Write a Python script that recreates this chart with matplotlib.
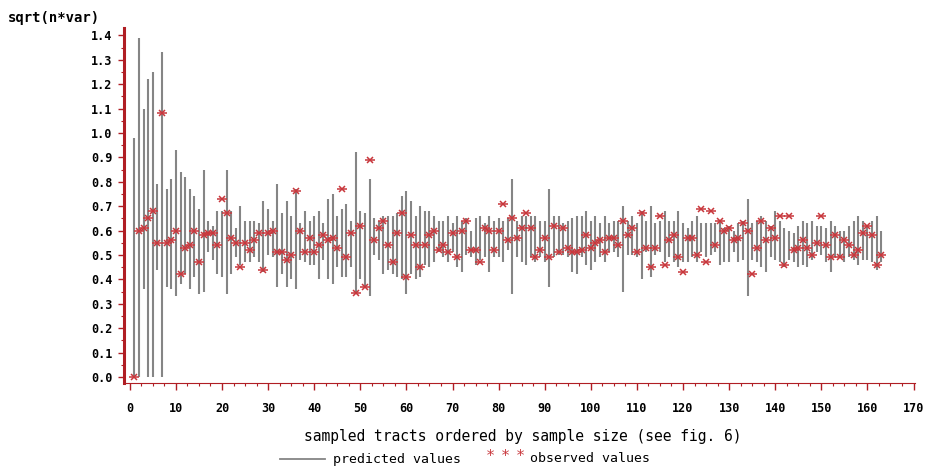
import matplotlib
matplotlib.use("Agg")
import matplotlib.pyplot as plt
from matplotlib.ticker import MultipleLocator
from matplotlib.lines import Line2D

# ---- data ----
tract = list(range(1, 164))

pred_low = [
    0.00, 0.00, 0.36, 0.00, 0.00, 0.44, 0.00, 0.37, 0.36, 0.33,
    0.38, 0.42, 0.36, 0.41, 0.34, 0.35, 0.51, 0.48, 0.42, 0.41,
    0.34, 0.42, 0.49, 0.46, 0.47, 0.47, 0.49, 0.47, 0.43, 0.50,
    0.49, 0.37, 0.42, 0.37, 0.40, 0.36, 0.48, 0.47, 0.46, 0.46,
    0.40, 0.48, 0.40, 0.38, 0.45, 0.41, 0.41, 0.45, 0.34, 0.40,
    0.37, 0.33, 0.50, 0.48, 0.42, 0.44, 0.42, 0.41, 0.40, 0.34,
    0.42, 0.40, 0.41, 0.46, 0.45, 0.47, 0.51, 0.49, 0.47, 0.51,
    0.45, 0.43, 0.50, 0.49, 0.46, 0.48, 0.49, 0.43, 0.49, 0.49,
    0.47, 0.52, 0.34, 0.49, 0.47, 0.46, 0.49, 0.47, 0.49, 0.47,
    0.37, 0.49, 0.50, 0.50, 0.49, 0.43, 0.42, 0.49, 0.46, 0.44,
    0.47, 0.49, 0.47, 0.51, 0.51, 0.49, 0.35, 0.50, 0.50, 0.49,
    0.40, 0.51, 0.41, 0.50, 0.51, 0.47, 0.49, 0.47, 0.45, 0.47,
    0.47, 0.49, 0.47, 0.51, 0.49, 0.50, 0.51, 0.46, 0.47, 0.47,
    0.51, 0.47, 0.48, 0.33, 0.48, 0.47, 0.45, 0.43, 0.49, 0.48,
    0.47, 0.45, 0.48, 0.47, 0.45, 0.46, 0.45, 0.48, 0.51, 0.50,
    0.47, 0.43, 0.49, 0.49, 0.47, 0.49, 0.48, 0.46, 0.48, 0.48,
    0.47, 0.44, 0.47,
]

pred_high = [
    0.98, 1.39, 1.10, 1.22, 1.25, 0.79, 1.33, 0.77, 0.81, 0.93,
    0.84, 0.82, 0.77, 0.74, 0.69, 0.85, 0.64, 0.62, 0.68, 0.68,
    0.85, 0.68, 0.61, 0.70, 0.64, 0.64, 0.64, 0.63, 0.72, 0.69,
    0.64, 0.79, 0.67, 0.72, 0.66, 0.77, 0.63, 0.68, 0.64, 0.66,
    0.68, 0.63, 0.73, 0.75, 0.66, 0.69, 0.71, 0.64, 0.92, 0.68,
    0.67, 0.81, 0.65, 0.64, 0.66, 0.66, 0.66, 0.67, 0.74, 0.76,
    0.72, 0.66, 0.70, 0.68, 0.68, 0.66, 0.64, 0.64, 0.66, 0.63,
    0.66, 0.64, 0.65, 0.60, 0.65, 0.66, 0.63, 0.66, 0.64, 0.65,
    0.64, 0.65, 0.81, 0.64, 0.66, 0.66, 0.66, 0.66, 0.64, 0.64,
    0.77, 0.66, 0.66, 0.63, 0.64, 0.65, 0.66, 0.66, 0.68, 0.64,
    0.66, 0.63, 0.66, 0.63, 0.64, 0.64, 0.70, 0.64, 0.66, 0.63,
    0.68, 0.64, 0.70, 0.63, 0.64, 0.68, 0.64, 0.64, 0.68, 0.63,
    0.61, 0.64, 0.66, 0.63, 0.63, 0.63, 0.63, 0.64, 0.61, 0.62,
    0.60, 0.63, 0.64, 0.73, 0.63, 0.64, 0.66, 0.64, 0.62, 0.68,
    0.64, 0.61, 0.60, 0.59, 0.62, 0.64, 0.63, 0.64, 0.62, 0.62,
    0.61, 0.64, 0.62, 0.60, 0.60, 0.62, 0.64, 0.66, 0.64, 0.62,
    0.64, 0.66, 0.60,
]

observed = [
    0.00, 0.60, 0.61, 0.65, 0.68, 0.55, 1.08, 0.55, 0.56, 0.60,
    0.42, 0.53, 0.54, 0.60, 0.47, 0.58, 0.59, 0.59, 0.54, 0.73,
    0.67, 0.57, 0.55, 0.45, 0.55, 0.52, 0.56, 0.59, 0.44, 0.59,
    0.60, 0.51, 0.51, 0.48, 0.50, 0.76, 0.60, 0.51, 0.57, 0.51,
    0.54, 0.58, 0.56, 0.57, 0.53, 0.77, 0.49, 0.59, 0.345, 0.62,
    0.37, 0.89, 0.56, 0.61, 0.64, 0.54, 0.47, 0.59, 0.67, 0.41,
    0.58, 0.54, 0.45, 0.54, 0.58, 0.60, 0.52, 0.54, 0.51, 0.59,
    0.49, 0.60, 0.64, 0.52, 0.52, 0.47, 0.61, 0.60, 0.52, 0.60,
    0.71, 0.56, 0.65, 0.57, 0.61, 0.67, 0.61, 0.49, 0.52, 0.57,
    0.49, 0.62, 0.51, 0.61, 0.53, 0.51, 0.51, 0.52, 0.58, 0.53,
    0.55, 0.56, 0.51, 0.57, 0.57, 0.54, 0.64, 0.58, 0.61, 0.51,
    0.67, 0.53, 0.45, 0.53, 0.66, 0.46, 0.56, 0.58, 0.49, 0.43,
    0.57, 0.57, 0.50, 0.69, 0.47, 0.68, 0.54, 0.64, 0.60, 0.61,
    0.56, 0.57, 0.63, 0.60, 0.42, 0.53, 0.64, 0.56, 0.61, 0.57,
    0.66, 0.46, 0.66, 0.52, 0.53, 0.56, 0.53, 0.50, 0.55, 0.66,
    0.54, 0.49, 0.58, 0.49, 0.56, 0.54, 0.50, 0.52, 0.59, 0.62,
    0.58, 0.46, 0.50,
]

x_ticks = list(range(0, 171, 10))
y_ticks = [round(0.1 * k, 1) for k in range(0, 15)]
y_title = "sqrt(n*var)"
x_title = "sampled tracts ordered by sample size (see fig. 6)"
legend_pred = "predicted values"
legend_obs = "observed values"

# ---- styling ----
AX_RED = "#b01e24"
STAR_RED = "#c8373c"
BAR_GREY = "#858585"
FONT = "DejaVu Sans Mono"

W, H = 931, 468
X0_PX, X_PER_UNIT = 129.8, 4.61           # pixel of x=0, pixels per x unit
LEFT_PX, RIGHT_PX = 124, 915
fig = plt.figure(figsize=(W / 100, H / 100), dpi=100)
ax = fig.add_axes([LEFT_PX / W, (H - 383) / H, (RIGHT_PX - LEFT_PX) / W, (383 - 28) / H])

ax.vlines(tract, pred_low, pred_high, colors=BAR_GREY, linewidth=1.5)
ax.plot(tract, observed, linestyle="none", marker="x", ms=4.5, mew=1.1,
        color=STAR_RED)
ax.plot(tract, observed, linestyle="none", marker="_", ms=7, mew=1.1,
        color=STAR_RED)

ax.set_xlim((LEFT_PX - X0_PX) / X_PER_UNIT, (RIGHT_PX - X0_PX) / X_PER_UNIT)
ax.set_ylim(-0.025, 1.43)

ax.set_xticks(x_ticks)
ax.set_xticklabels([str(t) for t in x_ticks])
ax.set_yticks(y_ticks)
ax.set_yticklabels([f"{t:.1f}" for t in y_ticks])
ax.xaxis.set_minor_locator(MultipleLocator(2.5))
ax.yaxis.set_minor_locator(MultipleLocator(0.05))

for s in ("top", "right"):
    ax.spines[s].set_visible(False)
ax.spines["left"].set_color(AX_RED)
ax.spines["left"].set_linewidth(2.2)
ax.spines["bottom"].set_color(AX_RED)
ax.spines["bottom"].set_linewidth(0.8)

ax.tick_params(axis="both", which="major", colors=AX_RED, labelcolor="black",
               labelsize=8.5, width=1.0)
ax.tick_params(axis="y", which="major", length=4.5, pad=4)
ax.tick_params(axis="x", which="major", length=5, pad=9)
ax.tick_params(axis="both", which="minor", colors=AX_RED, length=2.5, width=0.8)
for lab in ax.get_xticklabels() + ax.get_yticklabels():
    lab.set_fontfamily(FONT)
    lab.set_fontweight("bold")

fig.text(8 / W, 1 - 18 / H, y_title, fontsize=10, fontfamily=FONT,
         fontweight="bold", ha="left", va="center")
fig.text(523 / W, 1 - 436 / H, x_title, fontsize=10.5, fontfamily=FONT,
         ha="center", va="center")

# legend row
fig.add_artist(Line2D([280 / W, 325 / W], [1 - 459 / H, 1 - 459 / H],
                      color=BAR_GREY, linewidth=1.3))
fig.text(333 / W, 1 - 459 / H, legend_pred, fontsize=9.5, fontfamily=FONT,
         ha="left", va="center")
for xp in (490, 505, 520):
    fig.text(xp / W, 1 - 457 / H, "*", fontsize=11, fontfamily=FONT,
             color=STAR_RED, ha="center", va="center")
fig.text(530 / W, 1 - 459 / H, legend_obs, fontsize=9.5, fontfamily=FONT,
         ha="left", va="center")

fig.savefig("out.png", dpi=100)
